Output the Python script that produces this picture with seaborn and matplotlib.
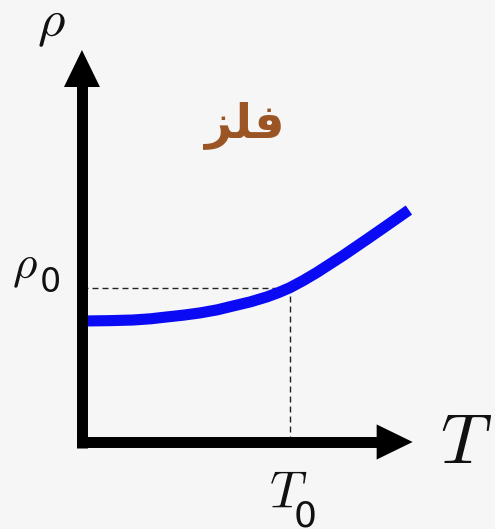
import matplotlib
matplotlib.use("Agg")
import matplotlib.pyplot as plt
import seaborn as sns
import pandas as pd

# Resistivity of a metal versus temperature (T0 = 1, rho0 = 1)
temperature = [0.029, 0.135, 0.245, 0.33, 0.409, 0.49, 0.567, 0.65, 0.726,
               0.81, 0.889, 0.945, 1.00, 1.065, 1.130, 1.255, 1.370, 1.481, 1.572]
resistivity = [0.786, 0.788, 0.792, 0.800, 0.812, 0.824, 0.838, 0.858, 0.883,
               0.910, 0.942, 0.970, 1.002, 1.049, 1.101, 1.210, 1.316, 1.420, 1.506]
t_ref = 1.0
rho_ref = 1.0
x_label = "$T$"
y_label = r"$\rho$"
ref_sub = "0"
title = "\uFEB0\uFEE0\uFED3"  # فلز, shaped glyphs in visual order

sns.set_theme(style="white")
plt.rcParams["mathtext.fontset"] = "cm"

bg = "#f6f6f6"
ink = "#111111"
fig = plt.figure(figsize=(4.95, 5.29), dpi=100, facecolor=bg)
ax = fig.add_axes([0, 0, 1, 1])
ax.set_facecolor(bg)
ax.set_xlim(-0.394, 1.986)
ax.set_ylim(-0.565, 2.870)
ax.set_axis_off()

df = pd.DataFrame({"T": temperature, "rho": resistivity})
sns.lineplot(data=df, x="T", y="rho", ax=ax, color="#0a0af5", lw=8.0,
             solid_capstyle="butt", solid_joinstyle="round", zorder=4)

# guide lines to the reference point
dash = (0, (4.3, 2.9))
ax.plot([0, t_ref], [rho_ref, rho_ref], color="#222222", lw=1.0, ls=dash, zorder=2)
ax.plot([t_ref, t_ref], [0, rho_ref], color="#222222", lw=1.0, ls=dash, zorder=2)

# axes with arrow heads
x_tip, y_tip = 1.59, 2.545
hx_len, hx_half = 0.173, 0.114   # horizontal head (data units)
hy_len, hy_half = 0.240, 0.0865  # vertical head
ax.plot([0, 0], [-0.039, y_tip - hy_len + 0.01], color="black", lw=7.9,
        solid_capstyle="butt", zorder=5)
ax.plot([-0.024, x_tip - hx_len + 0.01], [0, 0], color="black", lw=7.9,
        solid_capstyle="butt", zorder=5)
ax.fill([-hy_half, hy_half, 0], [y_tip - hy_len] * 2 + [y_tip], color="black", lw=0, zorder=5)
ax.fill([x_tip - hx_len] * 2 + [x_tip], [-hx_half, hx_half, 0], color="black", lw=0, zorder=5)

# axis names
ax.text(-0.149, 2.636, y_label, fontsize=38, ha="center", va="baseline", color=ink)
ax.text(1.846, -0.136, x_label, fontsize=51, ha="center", va="baseline", color=ink)

# reference values
ax.text(-0.274, 1.065, y_label, fontsize=34, ha="center", va="baseline", color=ink)
ax.text(-0.154, 0.974, ref_sub, fontsize=24, ha="center", va="baseline", color=ink,
        family=["DejaVu Sans"])
ax.text(0.990, -0.429, x_label, fontsize=37, ha="center", va="baseline", color=ink)
ax.text(1.074, -0.552, ref_sub, fontsize=26, ha="center", va="baseline", color=ink,
        family=["DejaVu Sans"])

ax.text(0.785, 2.06, title, fontsize=34, fontweight="bold", ha="center", va="center",
        color="#9b5524", family=["DejaVu Sans"])

fig.savefig("out.png", dpi=100, facecolor=bg)
